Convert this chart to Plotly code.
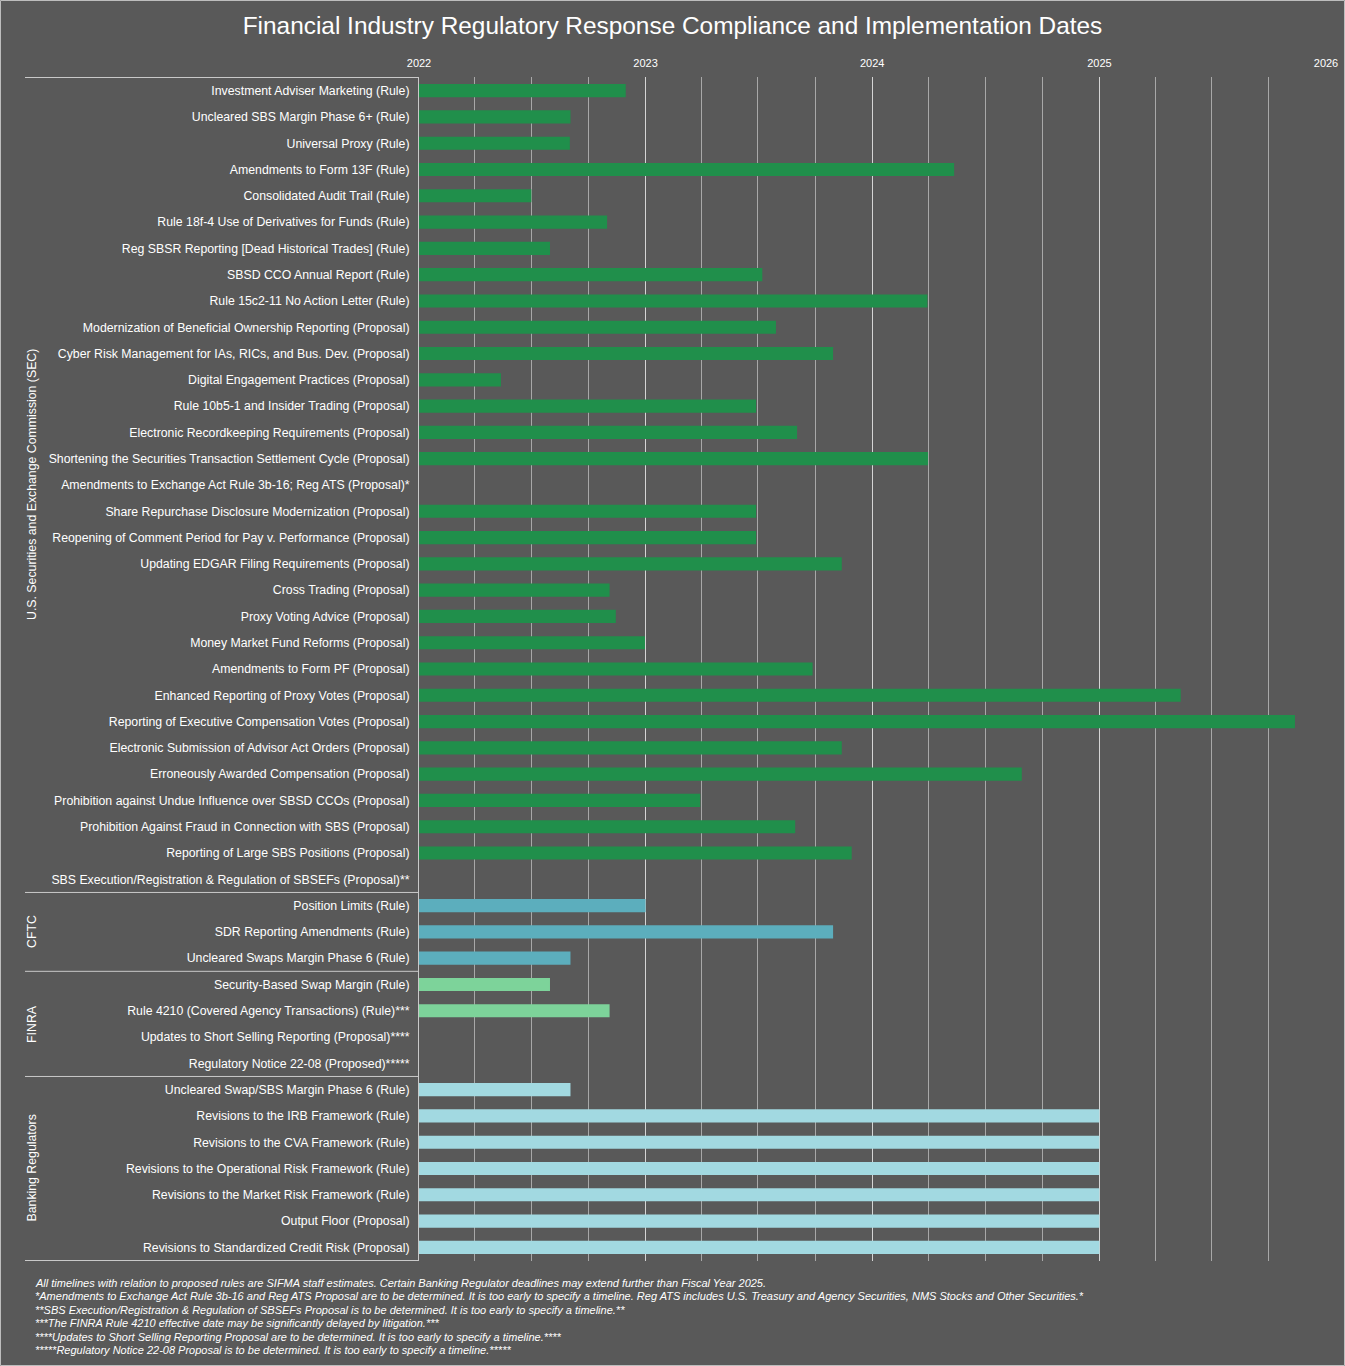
import plotly.graph_objects as go
import pandas as pd

# ---------------- data ----------------
sec_items = [
    "Investment Adviser Marketing (Rule)",
    "Uncleared SBS Margin Phase 6+ (Rule)",
    "Universal Proxy (Rule)",
    "Amendments to Form 13F (Rule)",
    "Consolidated Audit Trail (Rule)",
    "Rule 18f-4 Use of Derivatives for Funds (Rule)",
    "Reg SBSR Reporting [Dead Historical Trades] (Rule)",
    "SBSD CCO Annual Report (Rule)",
    "Rule 15c2-11 No Action Letter (Rule)",
    "Modernization of Beneficial Ownership Reporting (Proposal)",
    "Cyber Risk Management for IAs, RICs, and Bus. Dev. (Proposal)",
    "Digital Engagement Practices (Proposal)",
    "Rule 10b5-1 and Insider Trading (Proposal)",
    "Electronic Recordkeeping Requirements (Proposal)",
    "Shortening the Securities Transaction Settlement Cycle (Proposal)",
    "Amendments to Exchange Act Rule 3b-16; Reg ATS (Proposal)*",
    "Share Repurchase Disclosure Modernization (Proposal)",
    "Reopening of Comment Period for Pay v. Performance (Proposal)",
    "Updating EDGAR Filing Requirements (Proposal)",
    "Cross Trading (Proposal)",
    "Proxy Voting Advice (Proposal)",
    "Money Market Fund Reforms (Proposal)",
    "Amendments to Form PF (Proposal)",
    "Enhanced Reporting of Proxy Votes (Proposal)",
    "Reporting of Executive Compensation Votes (Proposal)",
    "Electronic Submission of Advisor Act Orders (Proposal)",
    "Erroneously Awarded Compensation (Proposal)",
    "Prohibition against Undue Influence over SBSD CCOs (Proposal)",
    "Prohibition Against Fraud in Connection with SBS (Proposal)",
    "Reporting of Large SBS Positions (Proposal)",
    "SBS Execution/Registration & Regulation of SBSEFs (Proposal)**",
]
sec_dates = [
    "2022-11-30", "2022-09-02", "2022-09-01", "2024-05-12", "2022-07-01",
    "2022-10-31", "2022-07-31", "2023-07-08", "2024-03-30", "2023-07-30",
    "2023-10-30", "2022-05-13", "2023-06-28", "2023-09-02", "2024-03-31",
    None, "2023-06-28", "2023-06-28", "2023-11-13", "2022-11-04",
    "2022-11-14", "2022-12-31", "2023-09-27", "2025-05-12", "2025-11-12",
    "2023-11-13", "2024-08-29", "2023-03-30", "2023-08-30", "2023-11-29",
    None,
]

cftc_items = [
    "Position Limits (Rule)",
    "SDR Reporting Amendments (Rule)",
    "Uncleared Swaps Margin Phase 6 (Rule)",
]
cftc_dates = ["2023-01-01", "2023-10-30", "2022-09-02"]

finra_items = [
    "Security-Based Swap Margin (Rule)",
    "Rule 4210 (Covered Agency Transactions) (Rule)***",
    "Updates to Short Selling Reporting (Proposal)****",
    "Regulatory Notice 22-08 (Proposed)*****",
]
finra_dates = ["2022-07-31", "2022-11-04", None, None]

bank_items = [
    "Uncleared Swap/SBS Margin Phase 6 (Rule)",
    "Revisions to the IRB Framework (Rule)",
    "Revisions to the CVA Framework (Rule)",
    "Revisions to the Operational Risk Framework (Rule)",
    "Revisions to the Market Risk Framework (Rule)",
    "Output Floor (Proposal)",
    "Revisions to Standardized Credit Risk (Proposal)",
]
bank_dates = ["2022-09-02", "2025-01-01", "2025-01-01", "2025-01-01",
              "2025-01-01", "2025-01-01", "2025-01-01"]

group_names = ["U.S. Securities and Exchange Commission (SEC)", "CFTC", "FINRA", "Banking Regulators"]
group_colors = ["#208f4b", "#5caebd", "#7dd39a", "#a2d9e1"]
start_date = "2022-01-01"

footnotes = [
    "All timelines with relation to proposed rules are SIFMA staff estimates. Certain Banking Regulator deadlines may extend further than Fiscal Year 2025.",
    "*Amendments to Exchange Act Rule 3b-16 and Reg ATS Proposal are to be determined. It is too early to specify a timeline. Reg ATS includes U.S. Treasury and Agency Securities, NMS Stocks and Other Securities.*",
    "**SBS Execution/Registration & Regulation of SBSEFs Proposal is to be determined. It is too early to specify a timeline.**",
    "***The FINRA Rule 4210 effective date may be significantly delayed by litigation.***",
    "****Updates to Short Selling Reporting Proposal are to be determined. It is too early to specify a timeline.****",
    "*****Regulatory Notice 22-08 Proposal is to be determined. It is too early to specify a timeline.*****",
]

# ---------------- figure ----------------
W, H = 1345, 1366
ML, MR, MT, MB = 419, 19, 77, 105
PW, PH = W - ML - MR, H - MT - MB
BG = "#595959"
LINE = "#c9c9c9"
FONT = "Liberation Sans, Arial, sans-serif"

groups = [
    (sec_items, sec_dates),
    (cftc_items, cftc_dates),
    (finra_items, finra_dates),
    (bank_items, bank_dates),
]
all_items = [it for g in groups for it in g[0]]

fig = go.Figure()
t0 = pd.Timestamp(start_date)
for (items, dates), name, col in zip(groups, group_names, group_colors):
    dur = [None if d is None else (pd.Timestamp(d) - t0).total_seconds() * 1000 for d in dates]
    fig.add_trace(go.Bar(
        y=items, x=dur, base=[start_date] * len(items), orientation="h",
        marker=dict(color=col, line=dict(width=0)), name=name, showlegend=False,
        hovertemplate="%{y}<extra></extra>",
    ))


def py_to_paper(py):
    return (H - MB - py) / PH


def px_to_paper(px):
    return (px - ML) / PW


shapes = []
annotations = []
idx = 0
bounds = []
for (items, _), name in zip(groups, group_names):
    first, last = idx, idx + len(items) - 1
    bounds.append((first, last, name))
    idx += len(items)
for first, last, name in bounds:
    shapes.append(dict(type="line", xref="paper", yref="y",
                       x0=px_to_paper(25), x1=0, y0=first - 0.5, y1=first - 0.5,
                       line=dict(color=LINE, width=1)))
    annotations.append(dict(text=name, xref="paper", yref="y",
                            x=px_to_paper(32), y=(first + last) / 2,
                            textangle=-90, showarrow=False,
                            font=dict(color="white", size=12.3, family=FONT),
                            xanchor="center", yanchor="middle"))
shapes.append(dict(type="line", xref="paper", yref="y",
                   x0=px_to_paper(25), x1=0, y0=len(all_items) - 0.5, y1=len(all_items) - 0.5,
                   line=dict(color=LINE, width=1)))
# outer border
shapes.append(dict(type="rect", xref="paper", yref="paper",
                   x0=px_to_paper(0.5), x1=px_to_paper(W - 0.5),
                   y0=py_to_paper(H - 0.5), y1=py_to_paper(0.5),
                   line=dict(color="#bdbdbd", width=1), layer="below"))

for i, f in enumerate(footnotes):
    annotations.append(dict(
        text="<i>" + f + "</i>",
        xref="paper", yref="paper", x=px_to_paper(33), y=py_to_paper(1283 + i * 13.4),
        xanchor="left", yanchor="middle", align="left", showarrow=False,
        font=dict(color="white", size=11, family=FONT),
    ))

fig.update_layout(
    width=W, height=H, autosize=False,
    margin=dict(l=ML, r=MR, t=MT, b=MB, pad=0, autoexpand=False),
    paper_bgcolor=BG, plot_bgcolor=BG,
    title=dict(text="Financial Industry Regulatory Response Compliance and Implementation Dates",
               x=0.5, xref="container", xanchor="center", y=1 - 25 / H, yanchor="middle",
               font=dict(color="white", size=24.4, family=FONT)),
    font=dict(family=FONT, color="white"),
    bargap=0.5,
    shapes=shapes,
    annotations=annotations,
    xaxis=dict(
        type="date", side="top", range=["2022-01-01", "2026-01-01"],
        tick0="2022-01-01", dtick="M12", tickformat="%Y",
        showgrid=True, gridcolor="#d4d4d4", gridwidth=1,
        minor=dict(dtick="M3", showgrid=True, gridcolor="#a8a8a8", gridwidth=1),
        ticks="", zeroline=False, showline=False, ticklabelstandoff=7,
        ticklabeloverflow="allow", automargin=False,
        tickfont=dict(color="white", size=11, family=FONT),
        fixedrange=True,
    ),
    yaxis=dict(
        type="category", categoryorder="array", categoryarray=all_items,
        autorange="reversed", showgrid=False, zeroline=False,
        showline=True, linecolor=LINE, linewidth=1, automargin=False,
        ticks="", ticklabelstandoff=6,
        tickfont=dict(color="white", size=12.3, family=FONT),
        range=[len(all_items) - 0.5, -0.5],
    ),
)

fig.write_html(
    "out.html",
    config={"displayModeBar": False, "responsive": False},
    post_script="document.body.style.margin='0';document.body.style.overflow='hidden';"
                "document.body.style.background='#595959';",
)
